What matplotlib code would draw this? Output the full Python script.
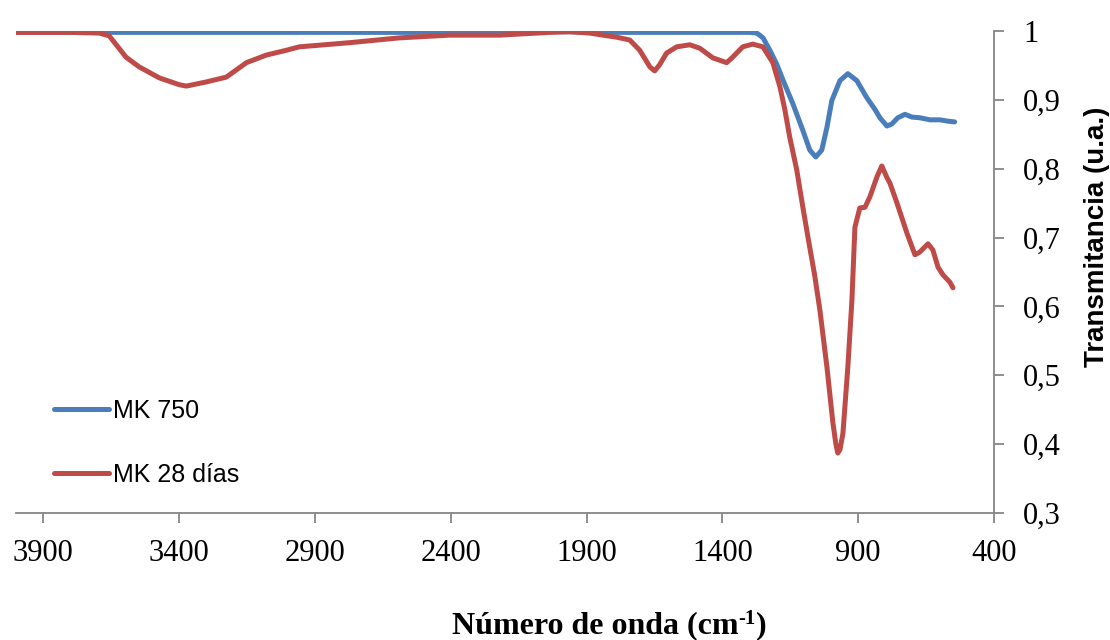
import numpy as np
import matplotlib
matplotlib.use("Agg")
import matplotlib.pyplot as plt

# FTIR spectra (wavenumber cm-1, transmittance)
mk750_x = [4000, 3700, 3400, 3100, 2800, 2500, 2200, 2000, 1800, 1600, 1400, 1300,
           1273, 1250, 1225, 1200, 1177, 1141, 1104, 1078, 1056, 1034, 1015, 997,
           967, 938, 905, 868, 838, 820, 794, 776, 754, 728, 702, 673, 636,
           599, 569, 545]
mk750_y = [0.998, 0.998, 0.998, 0.998, 0.998, 0.998, 0.998, 0.999, 0.998, 0.998, 0.998, 0.998,
           0.997, 0.990, 0.972, 0.952, 0.929, 0.895, 0.856, 0.827, 0.817, 0.827, 0.860, 0.899,
           0.928, 0.938, 0.928, 0.903, 0.886, 0.874, 0.862, 0.865, 0.874, 0.879, 0.875,
           0.874, 0.871, 0.871, 0.869, 0.868]

mk28_x = [4000, 3800, 3694, 3657, 3595, 3547, 3473, 3399, 3373, 3300, 3226, 3152,
          3079, 3005, 2957, 2773, 2589, 2404, 2220, 2036, 1962, 1889, 1789, 1741,
          1704, 1667, 1649, 1631, 1605, 1568, 1520, 1483, 1435, 1384, 1362, 1325,
          1288, 1251, 1214, 1188, 1170, 1152, 1126, 1104, 1085, 1060, 1041, 1015,
          993, 982, 975, 967, 956, 938, 923, 912, 894, 875, 857, 831,
          813, 794, 783, 757, 721, 691, 673, 643, 625, 606, 588, 562, 551]
mk28_y = [0.998, 0.998, 0.997, 0.993, 0.962, 0.948, 0.932, 0.922, 0.920, 0.926, 0.933, 0.954,
          0.965, 0.972, 0.977, 0.983, 0.990, 0.994, 0.994, 0.998, 0.999, 0.997, 0.991, 0.987,
          0.972, 0.948, 0.942, 0.951, 0.968, 0.977, 0.980, 0.975, 0.961, 0.954, 0.962, 0.977,
          0.981, 0.977, 0.954, 0.919, 0.886, 0.846, 0.798, 0.745, 0.701, 0.645, 0.595, 0.512,
          0.431, 0.400, 0.387, 0.392, 0.416, 0.512, 0.609, 0.715, 0.743, 0.744, 0.759, 0.788,
          0.804, 0.787, 0.779, 0.750, 0.707, 0.675, 0.679, 0.691, 0.682, 0.657, 0.646, 0.635, 0.627]

labels = ["MK 750", "MK 28 días"]
colors = ["#4A7EBB", "#BE4B48"]
x_ticks = [3900, 3400, 2900, 2400, 1900, 1400, 900, 400]
y_ticks = [0.3, 0.4, 0.5, 0.6, 0.7, 0.8, 0.9, 1.0]

fig = plt.figure(figsize=(11.1, 6.4), dpi=100)
ax = fig.add_axes([16/1110, 1-513/640, (994-16)/1110, (513-31)/640])

for xs, ys, c, lab in [(mk750_x, mk750_y, colors[0], labels[0]),
                       (mk28_x, mk28_y, colors[1], labels[1])]:
    ax.plot(xs, ys, color=c, lw=3.6, label=lab,
            solid_joinstyle='round', solid_capstyle='round')

ax.set_xlim(4000, 400)
ax.set_ylim(0.3, 1.0)

grey = "#868686"
ax.spines['left'].set_visible(False)
ax.spines['top'].set_visible(False)
for s in ['right', 'bottom']:
    ax.spines[s].set_color(grey)
    ax.spines[s].set_linewidth(1.3)

ax.set_xticks(x_ticks)
ax.set_xticklabels([str(t) for t in x_ticks], family='Liberation Serif', fontsize=22)
ax.set_yticks(y_ticks)
ax.set_yticklabels([("%g" % t).replace('.', ',') for t in y_ticks],
                   family='Liberation Serif', fontsize=22)
ax.yaxis.tick_right()
ax.tick_params(axis='x', direction='out', length=7, width=1.3, color=grey, pad=12)
ax.tick_params(axis='y', direction='out', length=7, width=1.3, color=grey, pad=14)
for lab in ax.get_yticklabels():
    lab.set_horizontalalignment('left')

fig.text(1097/1110, 1-237/640, "Transmitancia (u.a.)", rotation=90,
         family='Liberation Sans', weight='bold', fontsize=20, ha='center', va='center')

# x label with a small raised "-1", built from three pieces
renderer = fig.canvas.get_renderer()
base_y = 1 - 633/640
left = 452/1110
t1 = fig.text(left, base_y, "Número de onda (cm", family='Liberation Serif',
              weight='bold', fontsize=23, ha='left', va='baseline')
bb = t1.get_window_extent(renderer)
x2 = bb.x1 / 1110
t2 = fig.text(x2, base_y + 9/640, "-1", family='Liberation Serif',
              weight='bold', fontsize=15, ha='left', va='baseline')
bb2 = t2.get_window_extent(renderer)
fig.text(bb2.x1 / 1110, base_y, ")", family='Liberation Serif',
         weight='bold', fontsize=23, ha='left', va='baseline')

ax.legend(loc='center left', bbox_to_anchor=(54/1110, 1-443/640),
          bbox_transform=fig.transFigure, frameon=False, borderpad=0, borderaxespad=0,
          handlelength=2.2, handletextpad=0.15, labelspacing=1.6,
          prop={'family': 'Liberation Sans', 'size': 18})

fig.savefig("out.png", dpi=100)
